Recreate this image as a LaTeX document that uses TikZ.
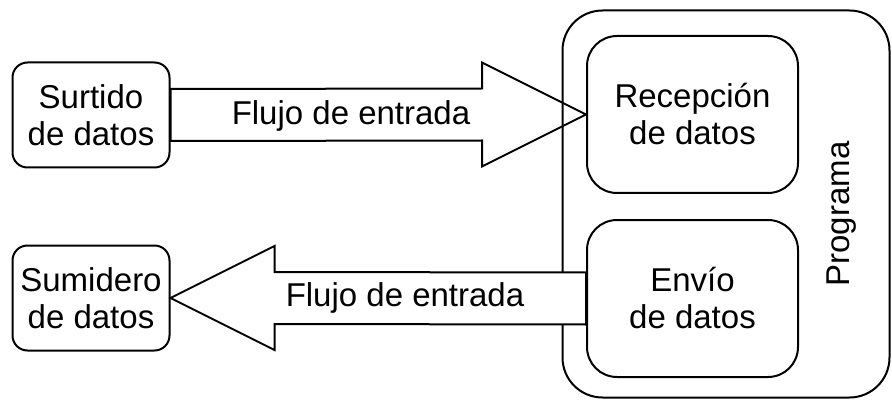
\documentclass[tikz,border=0pt]{standalone}
\usepackage{fontspec}
\setmainfont{Liberation Sans}
\usetikzlibrary{calc}
\pgfdeclarelayer{background}
\pgfsetlayers{background,main}
\begin{document}
\begin{tikzpicture}[x=1pt,y=-1pt,
  txt/.style={font=\fontsize{33}{37}\selectfont, align=center},
  smallbox/.style={txt, draw, line width=2pt, rounded corners=15pt, minimum width=157pt, minimum height=105pt, inner sep=0pt},
  procbox/.style={txt, draw, line width=2pt, rounded corners=30pt, minimum width=211pt, minimum height=157pt, inner sep=0pt},
  progbox/.style={draw, line width=2pt, rounded corners=40pt, minimum width=327pt, minimum height=387pt, inner sep=0pt},
  blockarrow/.style={draw, fill=white, line width=2pt, line join=miter}]
\useasboundingbox (0,0) rectangle (892,401);
\node[smallbox] (sur) at (91,115) {Surtido\\de datos};
\node[smallbox] (sum) at (91,298) {Sumidero\\de datos};
\node[procbox] (rec) at (692.5,114.5) {Recepción\\de datos};
\node[procbox] (env) at (692.5,298.5) {Envío\\de datos};
\node[progbox] (prog) at (726,204) {};
\node[txt, rotate=90] (proglbl) at (842,214) {Programa};
\begin{pgfonlayer}{background}
\draw[blockarrow] ($(sur.east)+(0,-26)$) -- ($(rec.west)+(-104,-26)$) -- ($(rec.west)+(-104,-52)$) -- (rec.west) -- ($(rec.west)+(-104,52)$) -- ($(rec.west)+(-104,26)$) -- ($(sur.east)+(0,26)$) -- cycle;
\end{pgfonlayer}
\draw[blockarrow] ($(env.west)+(0,-26)$) -- ($(sum.east)+(104,-26)$) -- ($(sum.east)+(104,-52)$) -- (sum.east) -- ($(sum.east)+(104,52)$) -- ($(sum.east)+(104,26)$) -- ($(env.west)+(0,26)$) -- cycle;
\node[txt] (lbl1) at (351,116) {Flujo de entrada};
\node[txt] (lbl2) at (405,298) {Flujo de entrada};
\end{tikzpicture}
\end{document}
